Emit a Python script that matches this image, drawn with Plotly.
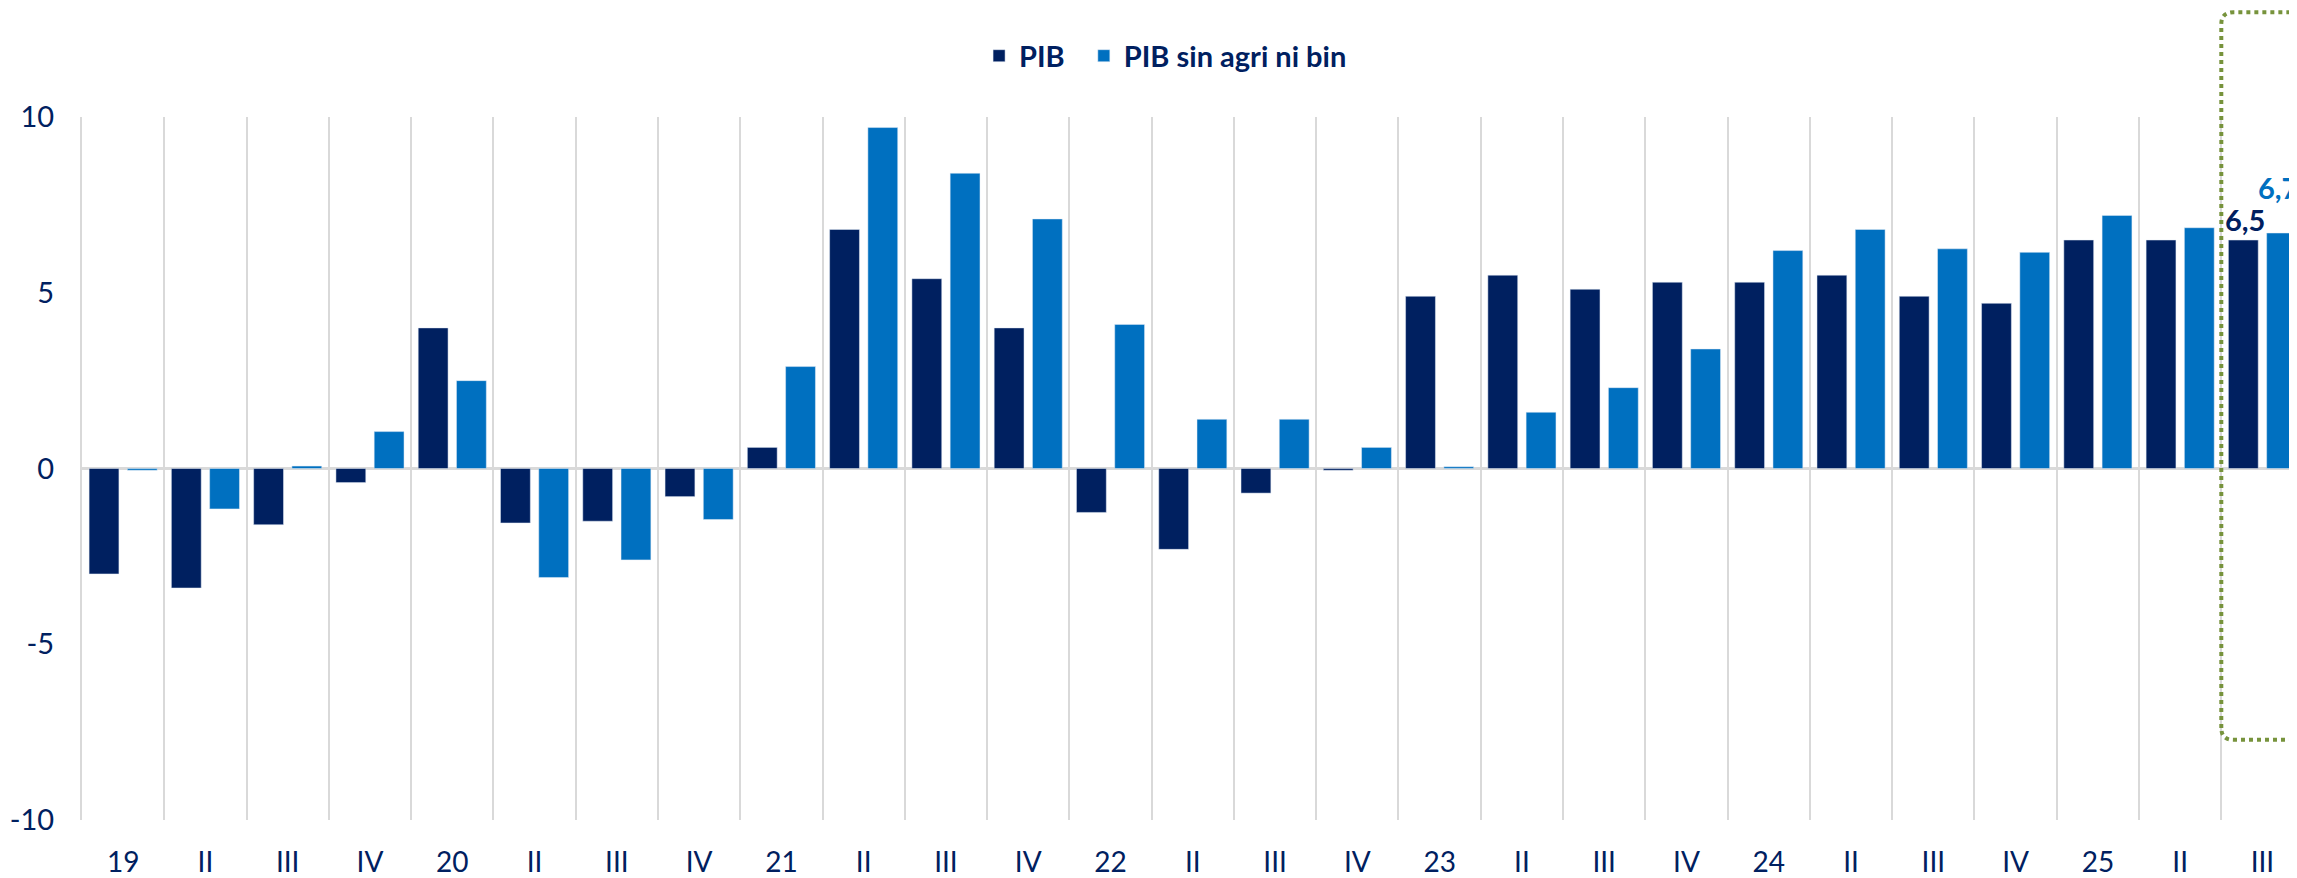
import plotly.graph_objects as go

# Trimestres (variación interanual, %)
quarters = ["19", "II", "III", "IV", "20", "II", "III", "IV", "21", "II", "III", "IV",
            "22", "II", "III", "IV", "23", "II", "III", "IV", "24", "II", "III", "IV",
            "25", "II", "III"]
pib = [-3.0, -3.4, -1.6, -0.4, 4.0, -1.55, -1.5, -0.8, 0.6, 6.8, 5.4, 4.0,
       -1.25, -2.3, -0.7, -0.05, 4.9, 5.5, 5.1, 5.3, 5.3, 5.5, 4.9, 4.7,
       6.5, 6.5, 6.5]
pib_sin = [-0.05, -1.15, 0.07, 1.05, 2.5, -3.1, -2.6, -1.45, 2.9, 9.7, 8.4, 7.1,
           4.1, 1.4, 1.4, 0.6, 0.05, 1.6, 2.3, 3.4, 6.2, 6.8, 6.25, 6.15,
           7.2, 6.85, 6.7]
y_ticks = [-10, -5, 0, 5, 10]

DARK = "#002060"
BLUE = "#0070C0"
GRID = "#d9d9d9"
FONT = "Lato"
NBSP = "\u00a0"

x = list(range(len(quarters)))

fig = go.Figure()
# espacios duros para separar la leyenda como en el original
fig.add_trace(go.Bar(x=x, y=pib, name="PIB" + NBSP * 2, marker_color=DARK))
fig.add_trace(go.Bar(x=x, y=pib_sin, name="PIB sin agri ni bin", marker_color=BLUE))

# etiquetas del último dato
last = len(quarters) - 1
fig.add_annotation(x=last, y=pib[-1], text=f"{pib[-1]:.1f}".replace(".", ","),
                   xshift=-17, yshift=1, yanchor="bottom", showarrow=False,
                   font=dict(family=FONT, size=29, color=DARK, weight="bold"))
fig.add_annotation(x=last, y=pib_sin[-1], text=f"{pib_sin[-1]:.1f}".replace(".", ","),
                   xshift=16, yshift=26, yanchor="bottom", showarrow=False,
                   font=dict(family=FONT, size=29, color=BLUE, weight="bold"))

# recuadro punteado del último trimestre
x0 = last - 0.5
x1 = last + 1.5
yt, yb = 1.149, 0.114
rx, ry = 0.15, 0.017
path = (f"M {x0},{yb + ry} L {x0},{yt - ry} Q {x0},{yt} {x0 + rx},{yt} "
        f"L {x1},{yt} L {x1},{yb} L {x0 + rx},{yb} Q {x0},{yb} {x0},{yb + ry}")
fig.add_shape(type="path", path=path, xref="x", yref="paper",
              line=dict(color="#77933C", width=4, dash="dot"))

# la página tiene 8 px de margen en el body: la figura se reduce en eso
fig.update_layout(
    width=2289, height=870,
    margin=dict(l=74, r=0, t=109, b=58, autoexpand=False),
    paper_bgcolor="white", plot_bgcolor="white",
    barmode="group", bargap=0.07, bargroupgap=0.22,
    font=dict(family=FONT, size=28, color=DARK),
    showlegend=True,
    legend=dict(orientation="h", x=0.405, xanchor="left", y=1.087, yanchor="middle",
                font=dict(family=FONT, size=29, color=DARK, weight="bold"),
                traceorder="normal"),
)
fig.update_xaxes(
    range=[-0.5, 26.42], tickmode="array", tickvals=x, ticktext=quarters,
    showgrid=False, zeroline=False, showline=False, ticks="", automargin=False,
    ticklabelstandoff=23,
    minor=dict(tickmode="array", tickvals=[i - 0.5 for i in range(len(quarters) + 1)],
               showgrid=True, gridcolor=GRID, gridwidth=2, ticks=""),
)
fig.update_yaxes(
    range=[-10, 10], tickmode="array", tickvals=y_ticks, ticktext=[str(v) for v in y_ticks],
    showgrid=False, zeroline=True, zerolinecolor=GRID, zerolinewidth=3,
    showline=True, linecolor=GRID, linewidth=2, mirror=False,
    ticks="", ticklabelstandoff=20, automargin=False,
    tickfont=dict(size=29),
)

fig.write_html("out.html")
